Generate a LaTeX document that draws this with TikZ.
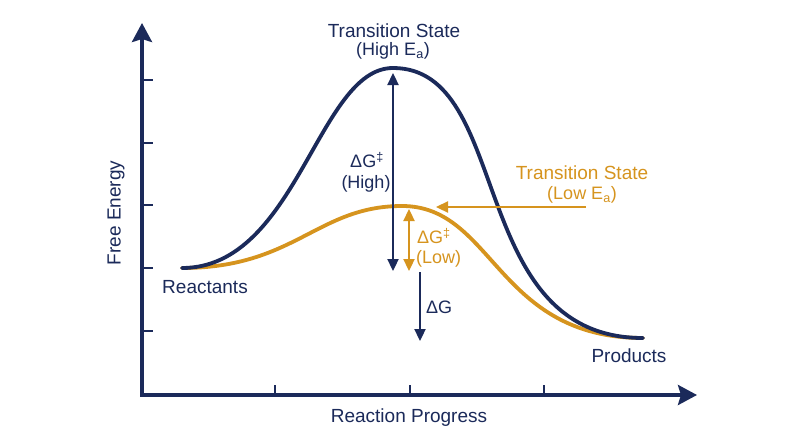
\documentclass[tikz,border=0pt]{standalone}
\usepackage{fontspec}
\setmainfont{Liberation Sans}
\usetikzlibrary{arrows.meta}
\definecolor{navy}{HTML}{1B2A5A}
\definecolor{gold}{HTML}{D6941E}
\begin{document}
\begin{tikzpicture}[x=1pt,y=-1pt,
  axis/.style={draw=navy,line width=3.6pt,-{Stealth[length=19pt,width=20pt,inset=3pt]}},
  tick/.style={draw=navy,line width=1.6pt},
  curve/.style={line width=3.8pt,line cap=round},
  dbl/.style={line width=2.3pt,{Triangle[length=12pt,width=11pt]}-{Triangle[length=12pt,width=11pt]}},
  sgl/.style={line width=2.3pt,-{Triangle[length=12pt,width=11pt]}},
  big/.style={font=\fontsize{19}{22}\selectfont,inner sep=0pt},
  small/.style={font=\fontsize{18}{21}\selectfont,inner sep=0pt}]
\useasboundingbox[fill=white] (0,0) rectangle (800,447);
% axes
\coordinate (origin) at (142,395);
\coordinate (ytip) at (142,23);
\coordinate (xtip) at (697,395);
\foreach \y in {80,143,205,268,331} \draw[tick] (142,\y) -- (153,\y);
\foreach \x in {275,410,544} \draw[tick] (\x,395) -- (\x,385);
\draw[axis,line cap=rect] (origin) -- (ytip);
\draw[axis] (origin) -- (xtip);
% curves
\coordinate (R) at (182,268);
\coordinate (P) at (643,338);
\coordinate (TSh) at (393,68);
\coordinate (TSl) at (402,206);
\draw[curve,gold] (R) .. controls (295,268) and (317,206) .. (TSl)
   .. controls (494,206) and (496,338) .. (P);
\draw[curve,navy] (R) .. controls (297,268) and (318,68) .. (TSh)
   .. controls (514,68) and (465,338) .. (P);
% arrows
\coordinate (hiTop) at (393,73);
\coordinate (hiBot) at (393,271);
\coordinate (loTop) at (409,209);
\coordinate (loBot) at (409,271);
\coordinate (dgTop) at (420,272);
\coordinate (dgBot) at (420,341);
\coordinate (tsArrS) at (586,207);
\coordinate (tsArrE) at (436,207);
\draw[dbl,navy] (hiTop) -- (hiBot);
\draw[dbl,gold] (loTop) -- (loBot);
\draw[sgl,navy] (dgTop) -- (dgBot);
\draw[sgl,gold] (tsArrS) -- (tsArrE);
% labels
\node[big,text=navy] (tsh) at (394,31) {Transition State};
\node[small,text=navy] (tshs) at (393,51) {(High E\textsubscript{a})};
\node[small,text=navy] (dgh) at (367,160) {ΔG\textsuperscript{‡}};
\node[small,text=navy] (dghs) at (366,184) {(High)};
\node[small,text=gold,anchor=west] (dgl) at (417,236) {ΔG\textsuperscript{‡}};
\node[small,text=gold,anchor=west] (dgls) at (416,259) {(Low)};
\node[small,text=navy,anchor=west] (dg) at (426,307) {ΔG};
\node[big,text=gold] (tsl) at (582,173) {Transition State};
\node[small,text=gold] (tsls) at (582,195) {(Low E\textsubscript{a})};
\node[big,text=navy] (react) at (205,287) {Reactants};
\node[big,text=navy] (prod) at (629,356) {Products};
\node[big,text=navy] (xlab) at (409,418) {Reaction Progress};
\node[big,text=navy,rotate=90] (ylab) at (116,213) {Free Energy};
\end{tikzpicture}
\end{document}
